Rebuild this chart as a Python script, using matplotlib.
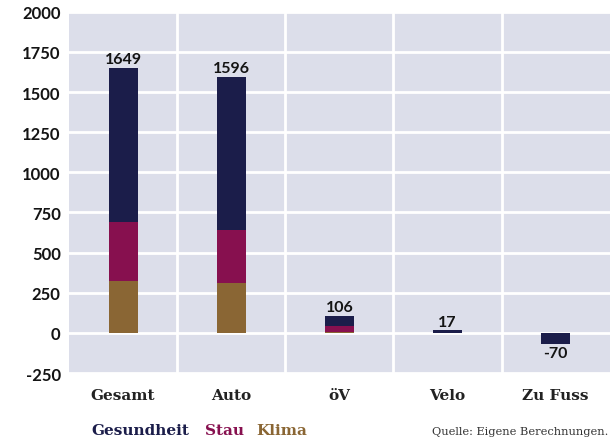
import numpy as np
import matplotlib
matplotlib.use("Agg")
import matplotlib.pyplot as plt

## data
kategorien = ["Gesamt", "Auto", "öV", "Velo", "Zu Fuss"]
klima = [320, 312, 3, 0, 0]
stau = [370, 330, 41, 0, 0]
gesundheit = [959, 954, 62, 17, -70]
totals = [1649, 1596, 106, 17, -70]

yticks = [-250, 0, 250, 500, 750, 1000, 1250, 1500, 1750, 2000]

c_ges = "#1b1d4a"
c_stau = "#87104f"
c_klima = "#8a6634"
bg = "#dcdeea"

fig = plt.figure(figsize=(6.11, 4.39), dpi=100)
ax = fig.add_axes([0.113, 0.148, 0.885, 0.823])
ax.set_facecolor(bg)

x = np.arange(len(kategorien))
w = 0.27
kl = np.array(klima)
st = np.array(stau)
ge = np.array(gesundheit)
ax.bar(x, kl, w, color=c_klima, zorder=3)
ax.bar(x, st, w, bottom=kl, color=c_stau, zorder=3)
bottom_ges = np.where(ge < 0, 0, kl + st)
ax.bar(x, ge, w, bottom=bottom_ges, color=c_ges, zorder=3)

numfont = dict(family="Lato", fontsize=11.5, fontweight="bold", color="#141414")
for xi, t in zip(x, totals):
    if t >= 0:
        ax.text(xi, t + 10, str(t), ha="center", va="bottom", **numfont)
    else:
        ax.text(xi, t - 14, str(t), ha="center", va="top", **numfont)

ax.set_xlim(-0.5, len(kategorien) - 0.5)
ax.set_ylim(-250, 2000)
ax.set_yticks(yticks)
ax.set_yticklabels([str(v) for v in yticks], family="Lato", fontsize=12,
                   fontweight="bold", color="#141414")
ax.set_xticks(x)
ax.set_xticklabels(kategorien, family="DejaVu Serif", fontsize=11,
                   fontweight="bold", color="#222222")
ax.set_xticks(x[:-1] + 0.5, minor=True)
ax.tick_params(axis="both", which="both", length=0)
ax.tick_params(axis="x", pad=11)
ax.tick_params(axis="y", pad=6)

ax.grid(axis="y", which="major", color="white", linewidth=2, zorder=1)
ax.grid(axis="x", which="minor", color="white", linewidth=2, zorder=1)
ax.grid(axis="x", which="major", visible=False)
for s in ax.spines.values():
    s.set_visible(False)

# legend as coloured words
legfont = dict(family="DejaVu Serif", fontsize=11, fontweight="bold")
fig.text(91 / 611, 1 - 431 / 439, "Gesundheit", color=c_ges, va="center", **legfont)
fig.text(205 / 611, 1 - 431 / 439, "Stau", color=c_stau, va="center", **legfont)
fig.text(256 / 611, 1 - 431 / 439, "Klima", color=c_klima, va="center", **legfont)
fig.text(608 / 611, 1 - 432 / 439, "Quelle: Eigene Berechnungen.", ha="right",
         va="center", family="DejaVu Serif", fontsize=8.2, color="#333333")

fig.savefig("out.png", dpi=100)
